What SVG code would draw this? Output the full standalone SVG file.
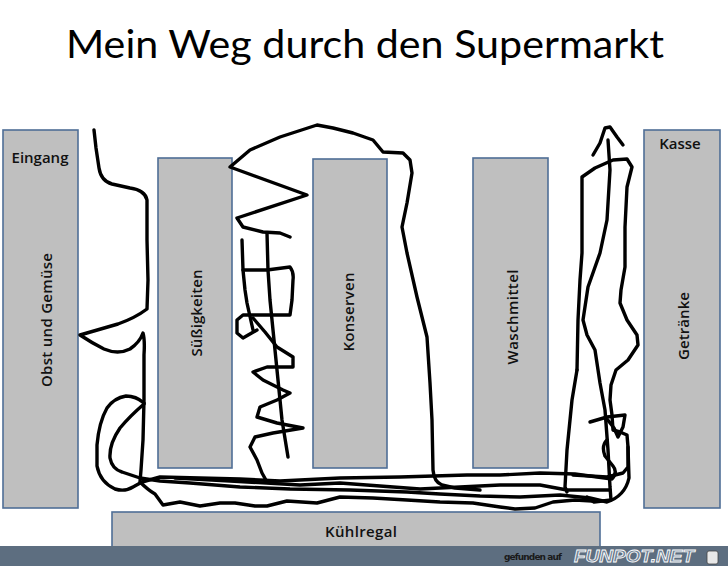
<svg xmlns="http://www.w3.org/2000/svg" width="728" height="566" viewBox="0 0 728 566">
<style>
.shelf{fill:#bfbfbf;stroke:#4f6e96;stroke-width:1.6}
.lbl{font-family:"Open Sans","Liberation Sans",sans-serif;font-weight:600;font-size:15px;fill:#111}
.title{font-family:Lato,"Open Sans",sans-serif;font-size:38px;fill:#000}
.p{fill:none;stroke:#000;stroke-width:3.4;stroke-linecap:round;stroke-linejoin:round}
</style>
<rect x="0" y="0" width="728" height="566" fill="#fff"/>
<text class="title" x="66" y="58" textLength="598" lengthAdjust="spacingAndGlyphs">Mein Weg durch den Supermarkt</text>

<g id="obst">
<rect class="shelf" x="3" y="130" width="75" height="378"/>
<text class="lbl" x="40" y="163" text-anchor="middle">Eingang</text>
<text class="lbl" transform="translate(52,320) rotate(-90)" text-anchor="middle" textLength="134">Obst und Gemüse</text>
</g>
<g id="suessigkeiten">
<rect class="shelf" x="158" y="158" width="74" height="310"/>
<text class="lbl" transform="translate(202,313) rotate(-90)" text-anchor="middle" textLength="87">Süßigkeiten</text>
</g>
<g id="konserven">
<rect class="shelf" x="313" y="159" width="74" height="309"/>
<text class="lbl" transform="translate(354,312) rotate(-90)" text-anchor="middle" textLength="79">Konserven</text>
</g>
<g id="waschmittel">
<rect class="shelf" x="473" y="158" width="75" height="310"/>
<text class="lbl" transform="translate(518,317) rotate(-90)" text-anchor="middle" textLength="95">Waschmittel</text>
</g>
<g id="getraenke">
<rect class="shelf" x="644" y="130" width="76" height="378"/>
<text class="lbl" x="680" y="149" text-anchor="middle">Kasse</text>
<text class="lbl" transform="translate(689,326) rotate(-90)" text-anchor="middle" textLength="68">Getränke</text>
</g>
<g id="kuehlregal">
<rect class="shelf" x="112" y="512" width="488" height="36"/>
<text class="lbl" x="361" y="537" text-anchor="middle" textLength="72">Kühlregal</text>
</g>

<g id="connectors">
<path class="p" d="M94,130 L96,148 L99,168 Q101,181 112,184 L130,188 Q145,190 147,200 L147,240 L148,280 L147,309 Q135,318 118,324 L80,335 Q92,343 104,349 Q118,355 130,349 Q140,342 143,333 Q145,340 144,355 L144,400 L143,440 L141,470 L140,482 Q148,490 155,494 L163,505 L180,502 L200,506 L220,503 L235,503 L255,506 L267,506 L287,501 L317,503 L340,497 L373,498 L407,500 L440,502 L473,503 L500,507 L515,509 L535,508 L553,502 L575,500 L592,501"/>
<path class="p" d="M144,403 Q136,396 126,396 Q114,398 107,408 Q99,422 97,445 L97,466 Q100,482 115,489 Q125,492 133,487 L142,482 L160,477 L200,478 L240,479 L280,481 L340,478 L400,477 L467,475 L500,475 L540,473 L575,474 L612,479 Q618,472 613,466 L605,456 Q601,446 607,440"/>
<path class="p" d="M144,404 Q130,416 120,428 Q109,444 110,458 Q112,469 122,472 L140,478 L160,481 L190,483 L240,487 L290,489 L350,490 L407,492 L440,494 L480,496 L520,497 L560,495 L590,498 L607,502 Q625,496 629,478 L628,447"/>
<path class="p" d="M175,478 L230,481 L300,485 L340,483 L380,486 L420,489 L460,487 L500,485 L540,485 L567,490 L590,490 L610,490"/>
<path class="p" d="M290,237 L280,233 L263,232 L243,227 L237,218 L307,195 L230,167 L250,150 L280,137 L317,125 L333,128 L353,133 L373,140 L383,152 L403,153 L410,160 L412,173 L407,203 L402,227 L407,253 L417,297 L427,337 L430,383 L432,420 L433,470 Q434,482 442,485 L455,488 L480,490"/>
<path class="p" d="M242,240 L243,270 L245,290 L247,303 L253,330"/>
<path class="p" d="M267,233 L268,270 L270,300 L272,320 L277,370 L282,420 L288,457"/>
<path class="p" d="M243,270 L267,270 L290,267 Q294,272 293,280 L292,300 L290,315 L273,315 L243,315 L237,320 L237,333 L243,338 L257,330"/>
<path class="p" d="M253,318 L265,332 L277,347 L293,357 L293,367 L267,367 L253,372 L263,380 L283,390 L290,393 L277,400 L260,407 L257,417 L277,423 L303,428 L273,433 L255,437 L250,447 L257,460 L262,473 L267,482"/>
<path class="p" d="M577,370 L578,320 L580,280 L582,253 L582,200 L582,177 L595,168 L613,160 L627,159 L632,167 L627,187 L625,227 L625,267 L621,290 L620,303 L627,320 L637,335 L638,345 L628,360 L616,370 L611,385 L610,400 L612,415 L613,430 L620,432 L627,435 L628,447 L628,467 L623,473 L607,477 L573,475"/>
<path class="p" d="M590,422 L607,417 L625,415 L623,427 L618,437 L614,428 L607,419"/>
<path class="p" d="M593,155 L600,143 L605,128 L610,127 L617,137 L623,145"/>
<path class="p" d="M608,140 L610,170 L607,220 L600,253 L588,287 L583,320 L587,335 L595,350 L600,383 L605,410 L608,450 L610,487 L611,500 L594,502 L587,497"/>
<path class="p" d="M577,370 L572,400 L567,450 L565,487 L567,492"/>
</g>

<g id="footer">
<rect x="0" y="546" width="728" height="20" fill="#5d6e80"/>
<text x="504" y="560" font-family="'DejaVu Sans',sans-serif" font-weight="bold" font-size="9" fill="#1a1a1a" textLength="58">gefunden auf</text>
<text x="574" y="562" font-family="'Liberation Sans',sans-serif" font-weight="bold" font-style="italic" font-size="17" fill="#6f8296" stroke="#fff" stroke-width="0.8" textLength="120" lengthAdjust="spacingAndGlyphs">FUNPOT.NET</text>
<rect x="707" y="551" width="11" height="13" rx="2" fill="#e8e8e8" stroke="#444" stroke-width="0.8"/>
</g>
</svg>
